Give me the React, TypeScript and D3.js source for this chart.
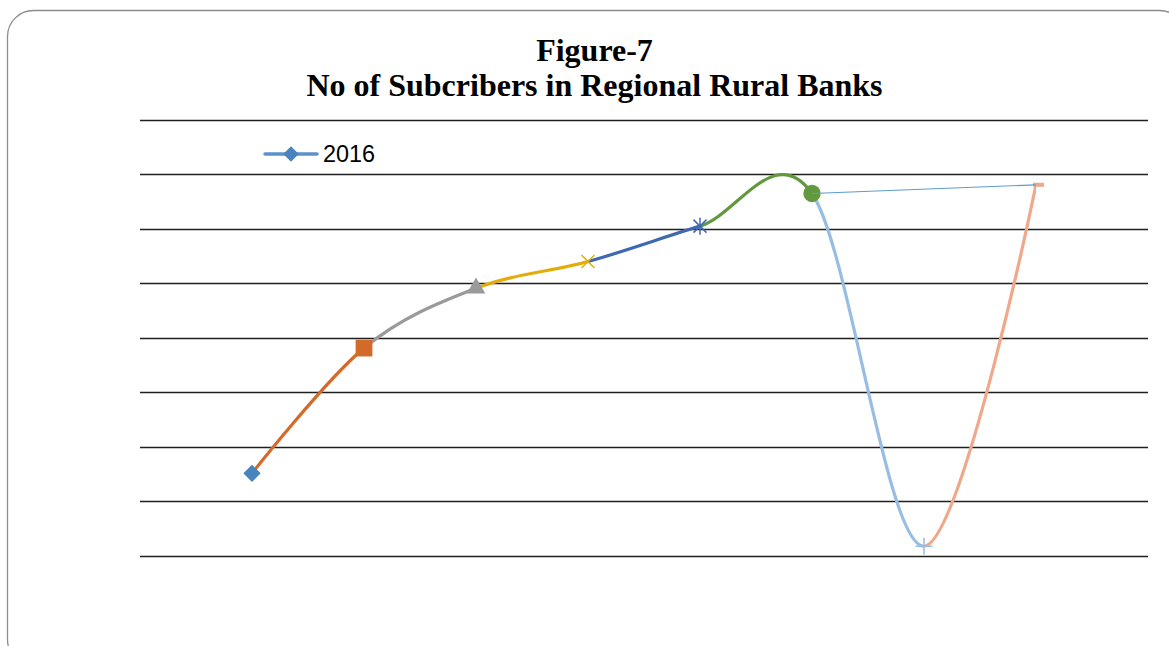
import React from "react";
import * as d3 from "d3";

const categories = ["1", "2", "3", "4", "5", "6", "7", "8"];
const values = [1.51, 3.81, 4.91, 5.4, 6.05, 6.65, 0.17, 6.81];
const pointColors = ["#4a84bf", "#d46a2a", "#9a9a9a", "#e3ac0a", "#3e68b2", "#62993e", "#98bde3", "#f0a88a"];
const markerKinds = ["diamond", "square", "triangle", "x", "star", "circle", "plus", "dash"];
const gridTicks = [0, 1, 2, 3, 4, 5, 6, 7, 8];
const legendLabel = "2016";
const titleLines = ["Figure-7", "No of Subcribers in Regional Rural Banks"];

const W = 1169;
const H = 646;

export default function App() {
  const x = d3.scalePoint<string>().domain(categories).range([140, 1148]).padding(1);
  const y = d3.scaleLinear().domain([0, 8]).range([555.5, 120]);
  const pts: [number, number][] = values.map((v, i) => [x(categories[i]) as number, y(v)]);
  const smooth = d3.line().curve(d3.curveCardinal.tension(0));
  const fullPath = smooth(pts) || "";
  const straight = d3.line();

  const marker = (kind: string, cx: number, cy: number, color: string, key: string) => {
    const t = `translate(${cx},${cy})`;
    switch (kind) {
      case "diamond":
        return <path key={key} transform={`${t} rotate(45)`} d={d3.symbol(d3.symbolSquare, 150)() || ""} fill={color} />;
      case "square":
        return <path key={key} transform={t} d={d3.symbol(d3.symbolSquare, 280)() || ""} fill={color} />;
      case "triangle":
        return <path key={key} transform={t} d={d3.symbol(d3.symbolTriangle, 150)() || ""} fill={color} />;
      case "circle":
        return <path key={key} transform={t} d={d3.symbol(d3.symbolCircle, 235)() || ""} fill={color} />;
      case "x":
        return (
          <g key={key} transform={t} stroke={color} strokeWidth={1.5}>
            <line x1={-6.5} y1={-6.5} x2={6.5} y2={6.5} />
            <line x1={-6.5} y1={6.5} x2={6.5} y2={-6.5} />
          </g>
        );
      case "star":
        return (
          <g key={key} transform={t} stroke={color} strokeWidth={1.5}>
            <line x1={-6.5} y1={-6.5} x2={6.5} y2={6.5} />
            <line x1={-6.5} y1={6.5} x2={6.5} y2={-6.5} />
            <line x1={0} y1={-8.5} x2={0} y2={8.5} />
          </g>
        );
      case "plus":
        return (
          <g key={key} transform={t} stroke={color} strokeWidth={1.5}>
            <line x1={-8.5} y1={0} x2={8.5} y2={0} />
            <line x1={0} y1={-8.5} x2={0} y2={8.5} />
          </g>
        );
      case "dash":
        return <rect key={key} x={cx - 3} y={cy - 2} width={11} height={4} fill={color} />;
      default:
        return null;
    }
  };

  return (
    <svg width={W} height={H} style={{ position: "absolute", left: 0, top: 0, background: "#fff" }}>
      <defs>
        {pts.slice(1).map((p, i) => (
          <clipPath id={`seg${i}`} key={i}>
            <rect x={pts[i][0]} y={0} width={p[0] - pts[i][0]} height={H} />
          </clipPath>
        ))}
      </defs>
      <rect x={7.5} y={10.5} width={1178} height={655} rx={26} ry={26} fill="#fff" stroke="#8c8c8c" strokeWidth={1.3} />
      <g fontFamily="'Liberation Serif', 'Times New Roman', serif" fontWeight="bold" fontSize={32} textAnchor="middle" fill="#000">
        <text x={594.5} y={61}>{titleLines[0]}</text>
        <text x={594.5} y={95.5}>{titleLines[1]}</text>
      </g>
      <g>
        {gridTicks.map((t) => (
          <line key={t} x1={140} x2={1148} y1={Math.round(y(t)) + 0.5} y2={Math.round(y(t)) + 0.5} stroke="#1f1f1f" strokeWidth={1.3} />
        ))}
      </g>
      <g>
        <line x1={265} x2={317} y1={154} y2={154} stroke="#5b93c9" strokeWidth={3.5} strokeLinecap="round" />
        <path transform="translate(291,154) rotate(45)" d={d3.symbol(d3.symbolSquare, 120)() || ""} fill={pointColors[0]} />
        <text x={323} y={162} fontFamily="'Liberation Sans', Arial, sans-serif" fontSize={23.4} fill="#000">{legendLabel}</text>
      </g>
      <g fill="none" strokeWidth={3.2} strokeLinecap="butt" strokeLinejoin="round">
        {pts.slice(1).map((_, i) => (
          <path key={i} d={fullPath} stroke={pointColors[i + 1]} clipPath={`url(#seg${i})`} />
        ))}
      </g>
      <g>{pts.map((p, i) => marker(markerKinds[i], p[0], p[1], pointColors[i], `m${i}`))}</g>
      <path d={straight([pts[5], pts[7]]) || ""} stroke="#5b9bd5" strokeWidth={1.2} fill="none" />
    </svg>
  );
}
